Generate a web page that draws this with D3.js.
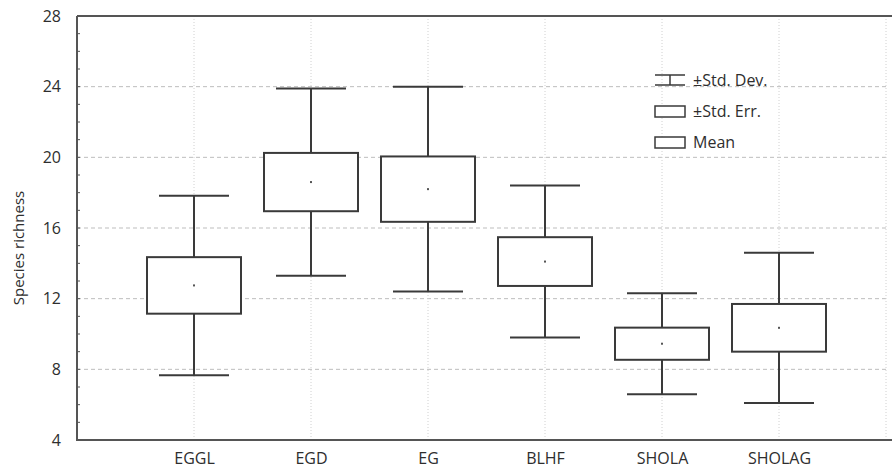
<!DOCTYPE html>
<html>
<head>
<meta charset="utf-8">
<script src="https://cdn.jsdelivr.net/npm/d3@7"></script>
<style>
  body { margin: 0; background: #fff; }
  svg { display: block; font-family: "Open Sans", sans-serif; }
</style>
</head>
<body>
<svg id="chart" width="892" height="476"></svg>
<script>
// data
const categories = ['EGGL', 'EGD', 'EG', 'BLHF', 'SHOLA', 'SHOLAG'];
const means = [12.75, 18.6, 18.2, 14.1, 9.45, 10.35];
const stdErr = [1.6, 1.65, 1.85, 1.38, 0.91, 1.35];
const stdDev = [5.08, 5.3, 5.8, 4.3, 2.86, 4.25];
const yTicks = [4, 8, 12, 16, 20, 24, 28];
const legendLabels = ['\u00b1Std. Dev.', '\u00b1Std. Err.', 'Mean'];

const svg = d3.select('#chart');
const plotL = 77, plotT = 16, plotR = 896, plotB = 440;
const ink = '#3a3a3a';
const font = '"Open Sans", sans-serif';
const textCol = '#2e2e2e';

const x = d3.scaleLinear().domain([0, 7]).range([plotL, plotR]);
const y = d3.scaleLinear().domain([4, 28]).range([plotB, plotT]);

// grid
svg.append('g')
    .selectAll('line')
    .data(yTicks.filter(d => d > 4 && d < 28))
    .join('line')
    .attr('x1', plotL).attr('x2', 886)
    .attr('y1', d => y(d)).attr('y2', d => y(d))
    .attr('stroke', '#bdbdbd').attr('stroke-width', 1)
    .attr('stroke-dasharray', '4,3');

svg.append('g')
    .selectAll('line')
    .data(categories)
    .join('line')
    .attr('x1', (d, i) => x(i + 1)).attr('x2', (d, i) => x(i + 1))
    .attr('y1', plotT).attr('y2', plotB)
    .attr('stroke', '#d0d0d0').attr('stroke-width', 1)
    .attr('stroke-dasharray', '1,2');

// right edge (faint)
svg.append('line')
    .attr('x1', 886).attr('x2', 886).attr('y1', plotT).attr('y2', plotB)
    .attr('stroke', '#d0d0d0').attr('stroke-dasharray', '1,2');

// boxes
const boxHalf = 47, capHalf = 35;
const g = svg.append('g').attr('stroke', ink).attr('stroke-width', 2).attr('fill', 'none');

categories.forEach((c, i) => {
    const cx = x(i + 1);
    const m = means[i], se = stdErr[i], sd = stdDev[i];
    // whiskers
    g.append('line').attr('x1', cx).attr('x2', cx).attr('y1', y(m + sd)).attr('y2', y(m + se));
    g.append('line').attr('x1', cx).attr('x2', cx).attr('y1', y(m - se)).attr('y2', y(m - sd));
    g.append('line').attr('x1', cx - capHalf).attr('x2', cx + capHalf).attr('y1', y(m + sd)).attr('y2', y(m + sd));
    g.append('line').attr('x1', cx - capHalf).attr('x2', cx + capHalf).attr('y1', y(m - sd)).attr('y2', y(m - sd));
    // box
    g.append('rect')
        .attr('x', cx - boxHalf).attr('width', boxHalf * 2)
        .attr('y', y(m + se)).attr('height', y(m - se) - y(m + se))
        .attr('fill', '#fff');
    // mean dot
    svg.append('rect')
        .attr('x', cx - 1).attr('y', y(m) - 1).attr('width', 2).attr('height', 2)
        .attr('fill', '#555');
});

// axes
const yAxis = d3.axisLeft(y).tickValues(yTicks).tickSize(0).tickPadding(16);
svg.append('g')
    .attr('transform', `translate(${plotL},0)`)
    .call(yAxis)
    .call(a => a.select('.domain').remove())
    .selectAll('text')
    .attr('font-size', 16).attr('fill', textCol)
    .attr('font-family', font);

// minor ticks on left axis
svg.append('g')
    .selectAll('line')
    .data(d3.range(5, 28))
    .join('line')
    .attr('x1', plotL).attr('x2', plotL + 3)
    .attr('y1', d => y(d)).attr('y2', d => y(d))
    .attr('stroke', '#555').attr('stroke-width', 1);

const xAxis = d3.axisBottom(x).tickValues(d3.range(1, 7))
    .tickFormat(d => categories[d - 1]).tickSize(0).tickPadding(13);
svg.append('g')
    .attr('transform', `translate(0,${plotB})`)
    .call(xAxis)
    .call(a => a.select('.domain').remove())
    .selectAll('text')
    .attr('font-size', 16).attr('fill', textCol)
    .attr('font-family', font);

// frame
svg.append('path')
    .attr('d', `M${plotL},${plotT}H892M${plotL},${plotT}V${plotB}H892`)
    .attr('fill', 'none').attr('stroke', '#555').attr('stroke-width', 2);

// y title
svg.append('text')
    .attr('transform', `translate(24,${(plotT + plotB) / 2 + 20}) rotate(-90)`)
    .attr('text-anchor', 'middle')
    .attr('font-size', 15).attr('fill', textCol)
    .text('Species richness');

// legend
const lg = svg.append('g').attr('transform', 'translate(655,80)');
legendLabels.forEach((t, i) => {
    const row = lg.append('g').attr('transform', `translate(0,${i * 31})`);
    if (i === 0) {
        row.append('path')
            .attr('d', 'M0,-5H30M0,5H30M15,-5V5')
            .attr('stroke', ink).attr('stroke-width', 1.5).attr('fill', 'none');
    } else {
        row.append('rect').attr('x', 0).attr('y', -5).attr('width', 30).attr('height', 11)
            .attr('stroke', ink).attr('stroke-width', 1.5).attr('fill', '#fff');
    }
    row.append('text').attr('x', 38).attr('y', 6)
        .attr('font-size', 16).attr('fill', textCol).text(t);
});
</script>
</body>
</html>
